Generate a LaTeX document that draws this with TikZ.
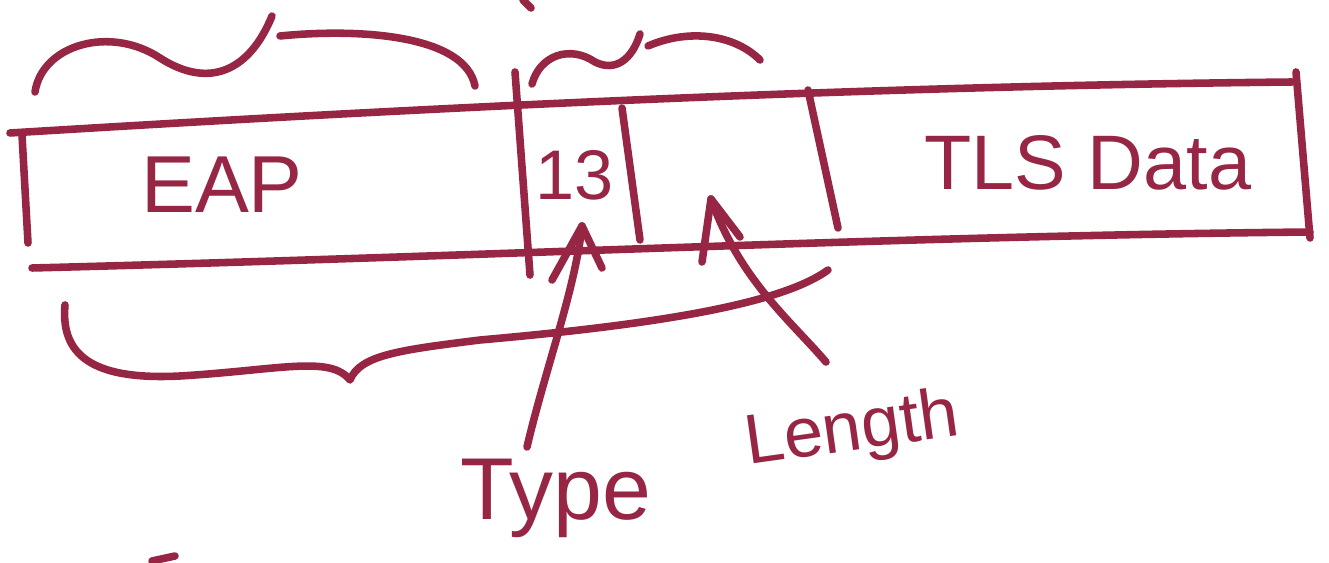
\documentclass[tikz,border=0pt]{standalone}
\usepackage{fontspec}
\setmainfont{Liberation Sans}
\definecolor{inkc}{RGB}{150,38,68}
\begin{document}
\begin{tikzpicture}[x=0.02cm,y=-0.02cm,
  ink/.style={draw=inkc, line width=4.3pt, line cap=round, line join=round},
  lbl/.style={text=inkc, inner sep=0pt, font=\fontsize{46}{50}\selectfont},
  small/.style={text=inkc, inner sep=0pt, font=\fontsize{40}{44}\selectfont}]
\useasboundingbox (0,0) rectangle (1329,563);
\fill[white] (0,0) rectangle (1329,563);
% box outline
\draw[ink] (10,133) .. controls (500,103) and (900,86) .. (1292,82);
\draw[ink] (32,268) .. controls (500,256) and (900,236) .. (1310,232);
% separators
\draw[ink] (22,135) -- (28,243);
\draw[ink] (515,72) -- (530,275);
\draw[ink] (622,108) -- (640,240);
\draw[ink] (808,90) -- (838,228);
\draw[ink] (1296,72) -- (1310,238);
% field texts
\node[lbl, anchor=base] (eap) at (222,213) {EAP};
\node[small, anchor=base] (t13) at (575,200) {13};
\node[lbl, anchor=base, font=\fontsize{44}{48}\selectfont] (tls) at (1088,190) {TLS Data};
% braces
\draw[ink] (35,92) .. controls (42,45) and (110,25) .. (160,58)
  .. controls (210,90) and (250,70) .. (272,16)
  (280,36) .. controls (360,28) and (465,35) .. (475,86);
\draw[ink] (532,84) .. controls (540,55) and (570,45) .. (595,62)
  .. controls (615,72) and (632,60) .. (640,34)
  (648,46) .. controls (690,28) and (735,35) .. (760,60);
\draw[ink] (65,305) .. controls (60,360) and (100,380) .. (180,376)
  .. controls (280,370) and (330,355) .. (350,380)
  .. controls (360,355) and (400,350) .. (480,340)
  .. controls (650,325) and (780,305) .. (828,270);
% stray marks at the edges
\draw[ink] (523,0) -- (531,8);
\draw[ink] (152,561) -- (175,556);
% labels and arrows
\node[lbl, anchor=base, font=\fontsize{50}{54}\selectfont] (type) at (556,520) {Type};
\node[lbl, anchor=base, rotate=8, font=\fontsize{40}{44}\selectfont] (len) at (855,450) {Length};
\coordinate (tA) at (582,226);
\coordinate (tB) at (711,199);
\coordinate (ts) at (527,447);
\coordinate (ls) at (826,362);
\draw[ink] (ts) .. controls (545,370) and (575,290) .. (tA);
\draw[ink] (552,280) -- (tA) -- (602,268);
\draw[ink] (ls) .. controls (790,320) and (740,280) .. (tB);
\draw[ink] (702,262) -- (tB) -- (740,237);
\end{tikzpicture}
\end{document}
